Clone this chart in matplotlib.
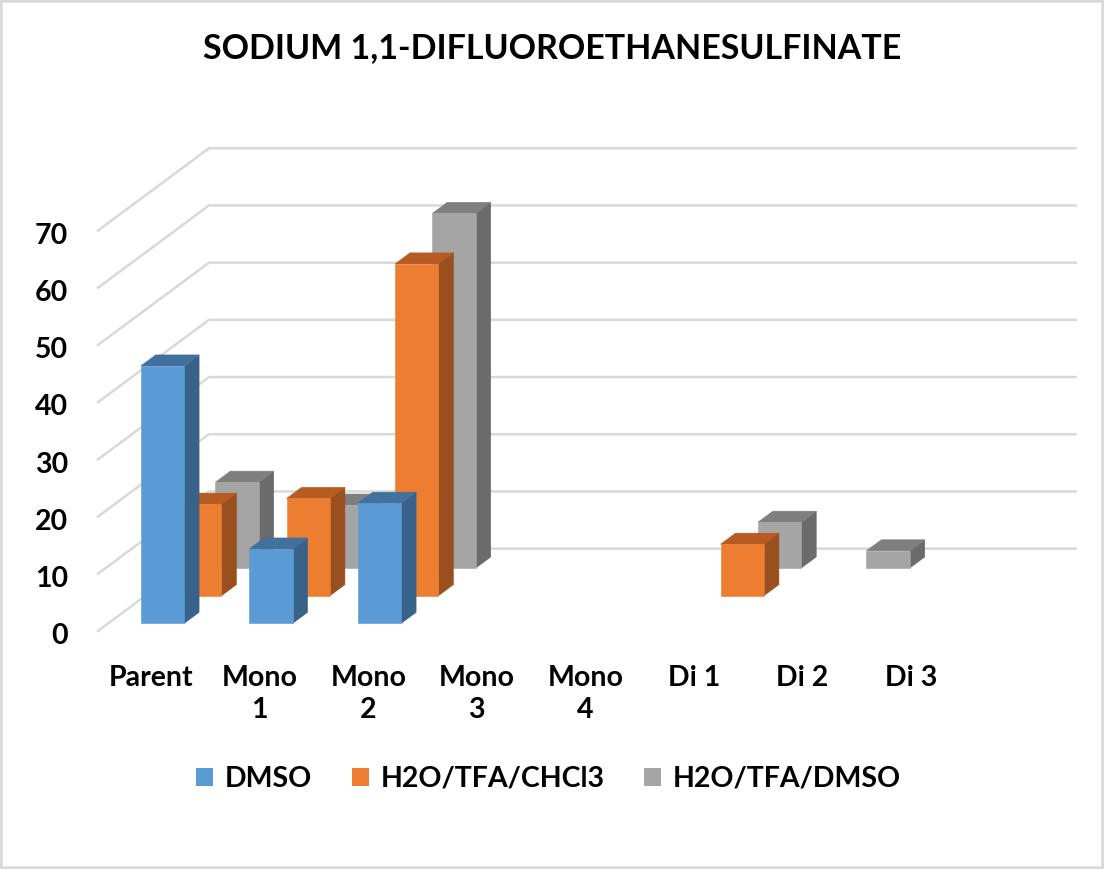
import matplotlib.pyplot as plt
from matplotlib.patches import Polygon, Patch, Rectangle

plt.rcParams['font.family'] = ['Lato', 'DejaVu Sans']
plt.rcParams['font.weight'] = 'bold'

title = 'SODIUM 1,1-DIFLUOROETHANESULFINATE'
categories = ['Parent', 'Mono\n1', 'Mono\n2', 'Mono\n3', 'Mono\n4', 'Di 1', 'Di 2', 'Di 3']
series_names = ['DMSO', 'H2O/TFA/CHCl3', 'H2O/TFA/DMSO']
dmso = [45, 13, 21, 0, 0, 0, 0, 0]
tfa_chcl3 = [16, 17, 58, 0, 0, 9, 0, 0]
tfa_dmso = [15, 11, 62, 0, 0, 8, 3, 0]
y_ticks = [0, 10, 20, 30, 40, 50, 60, 70]

# front / top / side shades per series
colors = [('#5B9BD5', '#41719C', '#38628A'),
          ('#ED7D31', '#B65B21', '#9A4F1E'),
          ('#A5A5A5', '#7F7F7F', '#6B6B6B')]

# fake 3d: oblique projection, depth measured in series slots
DX, DY = 0.344, 4.84
BW, BD = 0.4, 0.4
n_depth = len(series_names)
n_cat = len(categories)


def proj(x, d, v):
    return (x + d * DX, v + d * DY)


fig = plt.figure(figsize=(11.04, 8.69), dpi=100)
ax = fig.add_axes([0, 0, 1, 1])
ax.set_xlim(-97 / 108.5, (1104 - 97) / 108.5)
ax.set_ylim(-(869 - 631.7) / 5.72, 631.7 / 5.72)
ax.axis('off')

grid_c = '#d9d9d9'
for v in y_ticks:
    p0 = proj(0, 0, v)
    p1 = proj(0, n_depth, v)
    p2 = proj(n_cat, n_depth, v)
    ax.plot([p0[0], p1[0], p2[0]], [p0[1], p1[1], p2[1]], color=grid_c, lw=1.8,
            zorder=1, solid_capstyle='butt')
    ax.annotate(str(v), xy=p0, xytext=(-21, -1.5), textcoords='offset points',
                ha='right', va='center_baseline', fontsize=20.5)

all_series = [dmso, tfa_chcl3, tfa_dmso]
z = 2
for s in reversed(range(n_depth)):
    front_c, top_c, side_c = colors[s]
    for i, val in enumerate(all_series[s]):
        if val <= 0:
            continue
        x0, x1 = i + 0.5 - BW / 2, i + 0.5 + BW / 2
        d0 = s + 0.5 - BD / 2
        d1 = s + 0.5 + BD / 2
        front = [proj(x0, d0, 0), proj(x1, d0, 0), proj(x1, d0, val), proj(x0, d0, val)]
        top = [proj(x0, d0, val), proj(x1, d0, val), proj(x1, d1, val), proj(x0, d1, val)]
        side = [proj(x1, d0, 0), proj(x1, d1, 0), proj(x1, d1, val), proj(x1, d0, val)]
        for pts, c in [(side, side_c), (top, top_c), (front, front_c)]:
            ax.add_patch(Polygon(pts, closed=True, facecolor=c, edgecolor=c,
                                 lw=0.4, zorder=z))
        z += 1

for i, lab in enumerate(categories):
    ax.text(i + 0.5, -5.8, lab, ha='center', va='top', fontsize=20.5,
            linespacing=1.3)

fig.text(0.5, 1 - 48 / 869, title, ha='center', va='center', fontsize=24.5,
         fontweight='bold')

handles = [Patch(facecolor=c[0], edgecolor='none') for c in colors]
fig.legend(handles, series_names, loc='center', bbox_to_anchor=(0.497, 1 - 779 / 869),
           ncol=3, frameon=False, fontsize=20.5, handlelength=0.6, handleheight=0.6,
           handletextpad=0.4, columnspacing=1.4)

fig.add_artist(Rectangle((0, 0), 1, 1, transform=fig.transFigure, fill=False,
                         edgecolor='#d9d9d9', lw=4))

fig.savefig('out.png', dpi=100)
